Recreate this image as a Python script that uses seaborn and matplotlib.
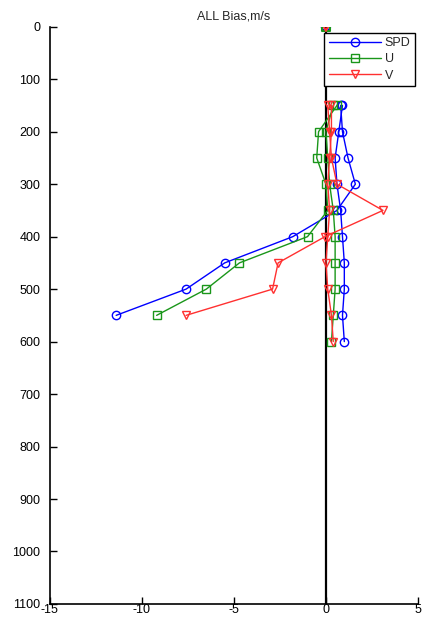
import numpy as np
import pandas as pd
import matplotlib
matplotlib.use("Agg")
import matplotlib.pyplot as plt
from matplotlib.lines import Line2D
import seaborn as sns

# ---- data ----
levels_a = [150, 200, 250, 300, 350, 400, 450, 500, 550]
levels_b = [150, 200, 250, 300, 350, 400, 450, 500, 550, 600]

spd_a = [0.8, 0.9, 1.2, 1.6, 0.6, -1.8, -5.5, -7.6, -11.4]
u_a = [0.6, -0.4, -0.5, 0.0, 0.1, -1.0, -4.7, -6.5, -9.2]
v_a = [0.1, 0.2, 0.3, 0.6, 3.1, -0.05, -2.6, -2.9, -7.6]

spd_b = [0.9, 0.7, 0.5, 0.6, 0.8, 0.9, 1.0, 1.0, 0.9, 1.0]
u_b = [0.4, 0.0, 0.1, 0.2, 0.4, 0.5, 0.5, 0.5, 0.4, 0.3]
v_b = [0.3, 0.3, 0.2, 0.1, 0.2, 0.1, 0.0, 0.1, 0.3, 0.4]

surface_level = [0]
surface_value = [0.0]

series_names = ["SPD", "U", "V"]
x_ticks = [-15, -10, -5, 0, 5]
y_ticks = list(range(0, 1101, 100))

# ---- style ----
sns.set_style("white")
plt.rcParams["font.family"] = ["Liberation Sans", "DejaVu Sans"]
plt.rcParams["font.size"] = 9

colors = {"SPD": "#0000ff", "U": "#1a961a", "V": "#ff3030"}
markers = {"SPD": "o", "U": "s", "V": "v"}

rows = []
for name, va, vb in zip(series_names, [spd_a, u_a, v_a], [spd_b, u_b, v_b]):
    for lv, x in zip(levels_a, va):
        rows.append({"var": name, "branch": "A", "level": lv, "value": x})
    for lv, x in zip(levels_b, vb):
        rows.append({"var": name, "branch": "B", "level": lv, "value": x})
df = pd.DataFrame(rows)

fig = plt.figure(figsize=(4.23, 6.22), dpi=100)
ax = fig.add_axes([0.118, 0.029, 0.870, 0.928])

# zero line
ax.axvline(0, color="black", lw=1.6, zorder=1)

for name in series_names:
    for br in ["B", "A"]:
        sub = df[(df["var"] == name) & (df["branch"] == br)]
        sns.lineplot(data=sub, x="value", y="level", sort=False, estimator=None,
                     color=colors[name], marker=markers[name], markersize=6,
                     markerfacecolor="none", markeredgecolor=colors[name],
                     markeredgewidth=1.0, lw=1.0, ax=ax, zorder=3)

# surface points
for name in series_names:
    sns.scatterplot(x=surface_value, y=surface_level, marker=markers[name],
                    s=36, facecolor="none", edgecolor=colors[name], linewidth=1.5,
                    ax=ax, zorder=4)

ax.set_xlim(-15, 5)
ax.set_ylim(1100, 0)
ax.set_xticks(x_ticks)
ax.set_xticklabels([str(t) for t in x_ticks])
ax.set_yticks(y_ticks)
ax.set_xlabel("")
ax.set_ylabel("")
ax.set_title("ALL Bias,m/s", fontsize=9, pad=5)

for s in ["top", "right"]:
    ax.spines[s].set_visible(False)
for s in ["left", "bottom"]:
    ax.spines[s].set_color("black")
    ax.spines[s].set_linewidth(1.2)
ax.tick_params(direction="in", length=5, width=1, colors="black", labelsize=9,
               left=True, bottom=True)
ax.tick_params(axis="y", pad=7)
ax.tick_params(axis="x", pad=0)

handles = [Line2D([0], [0], color=colors[n], marker=markers[n], markersize=6,
                  markerfacecolor="none", markeredgecolor=colors[n], lw=1.0)
           for n in series_names]
leg = ax.legend(handles, series_names, loc="upper right",
                bbox_to_anchor=(0.992, 0.99), fancybox=False, framealpha=1,
                edgecolor="black", fontsize=9, handlelength=4.2,
                borderpad=0.35, labelspacing=0.35, handletextpad=0.3,
                borderaxespad=0)
leg.get_frame().set_linewidth(1.0)

fig.savefig("out.png", dpi=100)
